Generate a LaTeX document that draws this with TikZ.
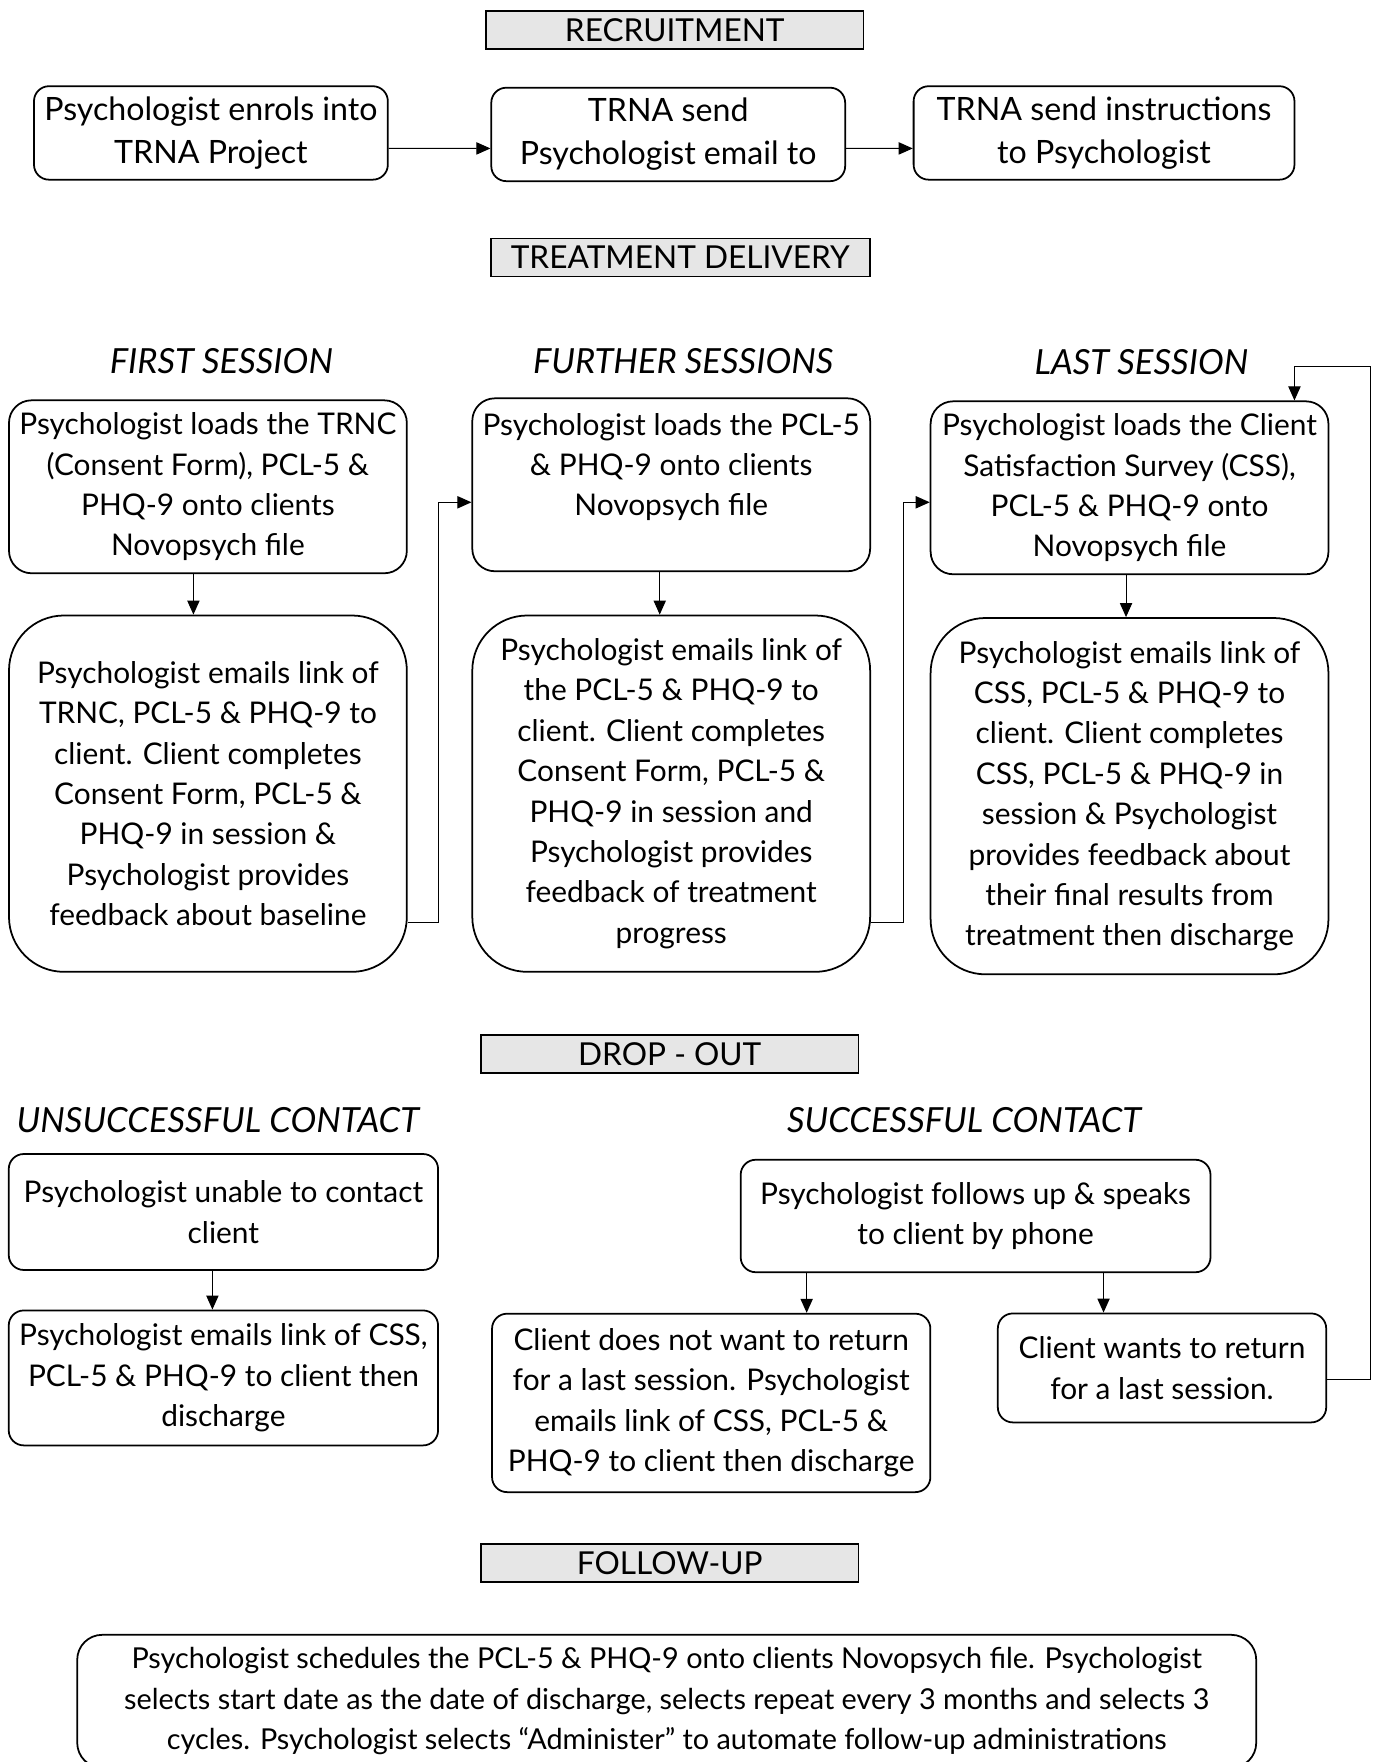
\documentclass[tikz,border=0pt]{standalone}
\usepackage{fontspec}
\setmainfont{Lato}
\usetikzlibrary{positioning,calc,arrows.meta}
\definecolor{headgray}{HTML}{E6E6E6}

\begin{document}
\begin{tikzpicture}[
    stage/.style={rectangle, draw, line width=1pt, fill=headgray, minimum width=7.55cm, minimum height=0.76cm, inner sep=0pt, font=\fontsize{18}{21}\selectfont},
    title/.style={font=\fontsize{19.7}{22}\selectfont\itshape},
    task/.style={rectangle, draw, rounded corners=0.3cm, line width=1pt, align=center, inner sep=0pt, font=\fontsize{17}{23}\selectfont},
    entry/.style={task, minimum height=1.87cm, font=\fontsize{18.3}{24.5}\selectfont},
    loadtask/.style={task, rounded corners=0.45cm, minimum width=7.96cm, minimum height=3.46cm},
    mailtask/.style={task, rounded corners=1.1cm, minimum width=7.96cm, minimum height=7.13cm},
    arrow/.style={-{Triangle[length=8pt,width=7pt]}, line width=0.6pt}
]
\useasboundingbox (0,0) rectangle (27.52,-35.255);

% Recruitment
\node[stage] (recruit) at (13.50,-0.60) {RECRUITMENT};
\node[entry, minimum width=7.08cm] (enrol) at (4.22,-2.66) {
    Psychologist enrols into \\
    TRNA Project
};
\node[entry, minimum width=7.08cm] (send) at (13.37,-2.69) {
    TRNA send \\
    Psychologist email to
};
\node[entry, minimum width=7.62cm] (instruct) at (22.09,-2.66) {
    TRNA send instructions \\
    to Psychologist
};
\draw[arrow] ([yshift=-0.31cm]enrol.east) -- ([yshift=-0.28cm]send.west);
\draw[arrow] ([yshift=-0.28cm]send.east) -- ([yshift=-0.31cm]instruct.west);

% Treatment delivery
\node[stage, minimum width=7.58cm] (treat) at (13.61,-5.15) {TREATMENT DELIVERY};

\node[title] (firsttitle) at (4.43,-7.22) {FIRST SESSION};
\node[title] (furthertitle) at (13.67,-7.22) {FURTHER SESSIONS};
\node[title] (lasttitle) at (22.84,-7.24) {LAST SESSION};

% First session
\node[loadtask] (firstload) at (4.16,-9.74) {
    Psychologist loads the TRNC \\
    (Consent Form), PCL-5 \& \\
    PHQ-9 onto clients \\
    Novopsych file
};
\node[mailtask] (firstmail) at (4.16,-15.88) {
    Psychologist emails link of \\
    TRNC, PCL-5 \& PHQ-9 to \\
    client. Client completes \\
    Consent Form, PCL-5 \& \\
    PHQ-9 in session \& \\
    Psychologist provides \\
    feedback about baseline
};
\draw[arrow] ([xshift=-0.29cm]firstload.south) -- ([xshift=-0.29cm]firstmail.north);

% Further sessions
\node[loadtask] (furtherload) at (13.43,-9.70) {
    Psychologist loads the PCL-5 \\
    \& PHQ-9 onto clients \\
    Novopsych file \\
    \mbox{}
};
\node[mailtask] (furthermail) at (13.43,-15.88) {
    Psychologist emails link of \\
    the PCL-5 \& PHQ-9 to \\
    client. Client completes \\
    Consent Form, PCL-5 \& \\
    PHQ-9 in session and \\
    Psychologist provides \\
    feedback of treatment \\
    progress
};
\draw[arrow] ([xshift=-0.23cm]furtherload.south) -- ([xshift=-0.23cm]furthermail.north);

% Last session
\node[loadtask] (lastload) at (22.60,-9.76) {
    Psychologist loads the Client \\
    Satisfaction Survey (CSS), \\
    PCL-5 \& PHQ-9 onto \\
    Novopsych file
};
\node[mailtask] (lastmail) at (22.60,-15.93) {
    Psychologist emails link of \\
    CSS, PCL-5 \& PHQ-9 to \\
    client. Client completes \\
    CSS, PCL-5 \& PHQ-9 in \\
    session \& Psychologist \\
    provides feedback about \\
    their final results from \\
    treatment then discharge
};
\draw[arrow] ([xshift=-0.07cm]lastload.south) -- ([xshift=-0.07cm]lastmail.north);

% Session to session
\draw[arrow] (firstmail.east |- 0,-18.46) -- (8.77,-18.46) |- (furtherload.west |- 0,-10.05);
\draw[arrow] (furthermail.east |- 0,-18.46) -- (18.08,-18.46) |- (lastload.west |- 0,-10.05);

% Drop-out
\node[stage] (dropout) at (13.40,-21.09) {DROP - OUT};

\node[title] (unsucctitle) at (4.36,-22.42) {UNSUCCESSFUL CONTACT};
\node[title] (succtitle) at (19.29,-22.42) {SUCCESSFUL CONTACT};

\node[task, minimum width=8.59cm, minimum height=2.32cm] (unable) at (4.47,-24.25) {
    Psychologist unable to contact \\
    client
};
\node[task, minimum width=8.59cm, minimum height=2.70cm] (unablemail) at (4.47,-27.57) {
    Psychologist emails link of CSS, \\
    PCL-5 \& PHQ-9 to client then \\
    discharge
};
\draw[arrow] ([xshift=-0.22cm]unable.south) -- ([xshift=-0.22cm]unablemail.north);

\node[task, minimum width=9.40cm, minimum height=2.25cm] (phone) at (19.52,-24.33) {
    Psychologist follows up \& speaks \\
    to client by phone
};
\node[task, minimum width=8.77cm, minimum height=3.57cm] (noreturn) at (14.23,-28.07) {
    Client does not want to return \\
    for a last session. Psychologist \\
    emails link of CSS, PCL-5 \& \\
    PHQ-9 to client then discharge
};
\node[task, minimum width=6.57cm, minimum height=2.18cm] (wants) at (23.25,-27.37) {
    Client wants to return \\
    for a last session.
};
\draw[arrow] (phone.south -| 16.14,0) -- (noreturn.north -| 16.14,0);
\draw[arrow] (phone.south -| 22.08,0) -- (wants.north -| 22.08,0);

% Back to last session
\draw[arrow] (wants.east |- 0,-27.61) -- (27.43,-27.61) |- (25.90,-7.33) -- (lastload.north -| 25.90,0);

% Follow-up
\node[stage] (followup) at (13.40,-31.28) {FOLLOW-UP};
\node[task, rounded corners=0.5cm, minimum width=23.59cm, minimum height=2.66cm, font=\fontsize{16.4}{23}\selectfont] (schedule) at (13.34,-34.04) {
    Psychologist schedules the PCL-5 \& PHQ-9 onto clients Novopsych file. Psychologist \\
    selects start date as the date of discharge, selects repeat every 3 months and selects 3 \\
    cycles. Psychologist selects ``Administer'' to automate follow-up administrations
};

\end{tikzpicture}
\end{document}
